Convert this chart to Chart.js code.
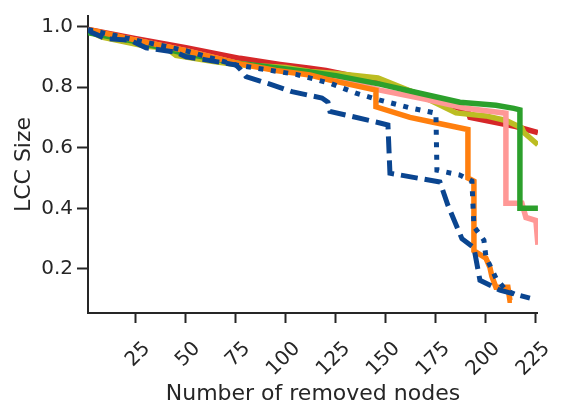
<!DOCTYPE html>
<html>
<head>
<meta charset="utf-8">
<script src="https://cdn.jsdelivr.net/npm/chart.js@4"></script>
<style>
  body { margin: 0; background: #fff; }
  canvas { display: block; }
</style>
</head>
<body>
<canvas id="lccChart" width="567" height="414"></canvas>
<script>
// valores (nodos removidos vs tamaño de la LCC)
const xTicks = [25, 50, 75, 100, 125, 150, 175, 200, 225];
const yTicks = [0.2, 0.4, 0.6, 0.8, 1.0];

const redX = [1, 25, 50, 77, 97, 112, 120, 146, 170, 191, 192, 200, 215, 226];
const redY = [0.99, 0.96, 0.93, 0.895, 0.875, 0.862, 0.855, 0.82, 0.77, 0.72, 0.70, 0.69, 0.67, 0.65];

const oliveX = [1, 8, 30, 40, 45, 63, 75, 100, 112, 125, 146, 165, 185, 200, 210, 218, 219, 226];
const oliveY = [0.985, 0.965, 0.935, 0.93, 0.905, 0.885, 0.875, 0.865, 0.852, 0.845, 0.83, 0.78, 0.715, 0.705, 0.69, 0.665, 0.65, 0.61];

const pinkX = [1, 25, 50, 75, 100, 125, 147, 170, 190, 210, 210, 218, 220, 225, 226];
const pinkY = [0.985, 0.955, 0.92, 0.88, 0.855, 0.83, 0.79, 0.76, 0.73, 0.714, 0.417, 0.417, 0.37, 0.36, 0.28];

const greenX = [1, 25, 50, 75, 100, 112, 125, 147, 167, 187, 205, 214, 217, 217, 226];
const greenY = [0.98, 0.95, 0.91, 0.88, 0.86, 0.85, 0.838, 0.81, 0.78, 0.75, 0.74, 0.73, 0.725, 0.40, 0.40];

const orangeX = [1, 25, 50, 76, 95, 112, 122, 145, 145, 162, 173, 191, 191, 194, 194, 200, 202, 203, 205, 211, 212, 213];
const orangeY = [0.99, 0.955, 0.92, 0.878, 0.855, 0.84, 0.823, 0.79, 0.735, 0.70, 0.685, 0.66, 0.50, 0.49, 0.26, 0.236, 0.205, 0.175, 0.14, 0.14, 0.097, 0.097];

const dashedX = [1, 3, 10, 22, 30, 45, 50, 60, 75, 77, 80, 92, 103, 118, 121, 122, 145, 151, 152, 177, 181, 188, 194, 197, 207, 222];
const dashedY = [0.99, 0.98, 0.96, 0.955, 0.93, 0.915, 0.90, 0.89, 0.873, 0.86, 0.835, 0.81, 0.785, 0.764, 0.75, 0.72, 0.685, 0.675, 0.516, 0.487, 0.41, 0.30, 0.27, 0.163, 0.13, 0.104];

const dottedX = [1, 25, 50, 75, 88, 105, 122, 135, 147, 163, 175, 175.5, 187, 193, 194, 199, 200, 205, 210, 215];
const dottedY = [0.99, 0.955, 0.92, 0.873, 0.86, 0.842, 0.813, 0.78, 0.757, 0.73, 0.714, 0.526, 0.51, 0.49, 0.34, 0.295, 0.24, 0.17, 0.13, 0.115];

const puntos = (xs, ys) => xs.map((x, i) => ({ x: x, y: ys[i] }));

const textColor = "#262626";
const azul = "#0a4590";

const serie = (xs, ys, color, order, dash) => ({
  data: puntos(xs, ys),
  borderColor: color,
  backgroundColor: color,
  borderWidth: dash ? 5 : 5.5,
  borderDash: dash || [],
  borderCapStyle: "butt",
  pointRadius: 0,
  tension: 0,
  fill: false,
  order: order,
});

Chart.defaults.font.family = "DejaVu Sans";
Chart.defaults.color = textColor;

const ctx = document.getElementById("lccChart").getContext("2d");

new Chart(ctx, {
  type: "line",
  data: {
    datasets: [
      serie(redX, redY, "#d62728", 7),
      serie(oliveX, oliveY, "#bcbd22", 6),
      serie(pinkX, pinkY, "#ff9896", 5),
      serie(greenX, greenY, "#2ca02c", 4),
      serie(orangeX, orangeY, "#ff7f0e", 3),
      serie(dashedX, dashedY, azul, 2, [17, 7]),
      serie(dottedX, dottedY, azul, 1, [5, 7.5]),
    ],
  },
  options: {
    responsive: false,
    animation: false,
    layout: { padding: { left: 0, top: 16, right: 27, bottom: 0 } },
    plugins: {
      legend: { display: false },
      tooltip: { enabled: false },
    },
    scales: {
      x: {
        type: "linear",
        min: 1,
        max: 226,
        afterBuildTicks: (scale) => {
          scale.ticks = xTicks.map((v) => ({ value: v }));
        },
        afterFit: (scale) => {
          scale.height = 101;
        },
        grid: {
          display: true,
          drawOnChartArea: false,
          drawTicks: true,
          tickLength: 10,
          tickWidth: 2,
          tickColor: textColor,
        },
        border: { display: true, color: textColor, width: 2 },
        ticks: {
          autoSkip: false,
          minRotation: 45,
          maxRotation: 45,
          labelOffset: 11,
          padding: 14,
          color: textColor,
          font: { size: 20 },
        },
        title: {
          display: true,
          text: "Number of removed nodes",
          color: textColor,
          font: { size: 22 },
          padding: { top: 0, bottom: 7 },
        },
      },
      y: {
        type: "linear",
        min: 0.0548,
        max: 1.0347,
        afterBuildTicks: (scale) => {
          scale.ticks = yTicks.map((v) => ({ value: v }));
        },
        afterFit: (scale) => {
          scale.width = 88;
        },
        grid: {
          display: true,
          drawOnChartArea: false,
          drawTicks: true,
          tickLength: 11,
          tickWidth: 2,
          tickColor: textColor,
        },
        border: { display: true, color: textColor, width: 2 },
        ticks: {
          padding: 4,
          color: textColor,
          font: { size: 20 },
          callback: (v) => v.toFixed(1),
        },
        title: {
          display: true,
          text: "LCC Size",
          color: textColor,
          font: { size: 22 },
          padding: { top: 11, bottom: 0 },
        },
      },
    },
  },
});
</script>
</body>
</html>
